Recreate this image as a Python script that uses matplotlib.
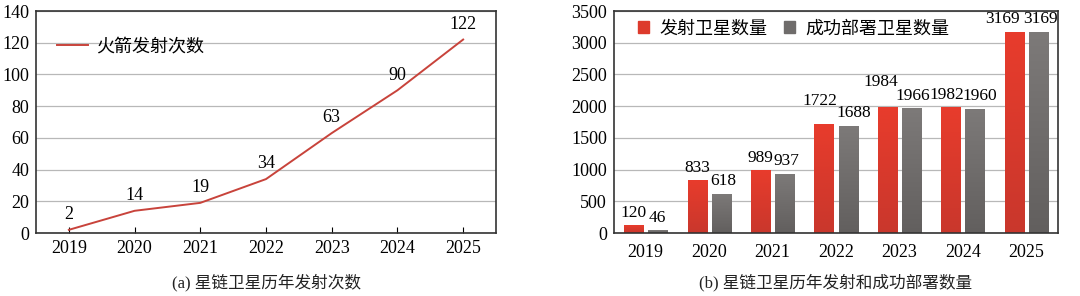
import numpy as np
import matplotlib.pyplot as plt
from matplotlib.patches import Patch
from matplotlib.colors import LinearSegmentedColormap

plt.rcParams['font.family'] = ['Liberation Serif', 'Noto Sans CJK SC']

years = ['2019', '2020', '2021', '2022', '2023', '2024', '2025']
launches = [2, 14, 19, 34, 63, 90, 122]
sat_launched = [120, 833, 989, 1722, 1984, 1982, 3169]
sat_deployed = [46, 618, 937, 1688, 1966, 1960, 3169]

RED = '#c8433b'
BAR_RED = '#dd3a2c'
BAR_GRAY = '#6f6c6b'
GRID = '#b8b8b8'

fig = plt.figure(figsize=(10.8, 2.96), dpi=100)
ax1 = fig.add_axes([36 / 1080, 1 - 233 / 296, 460 / 1080, 222 / 296])
ax2 = fig.add_axes([614 / 1080, 1 - 233 / 296, 444 / 1080, 222 / 296])

fs = 13

# --- (a) 折线图 ---
x = np.arange(len(years))
ax1.plot(x, launches, color=RED, lw=1.4, label='火箭发射次数')
for xi, v in zip(x, launches):
    ax1.annotate(str(v), (xi, v), xytext=(0, 11), textcoords='offset points',
                 ha='center', va='center', fontsize=fs)
ax1.set_xlim(-0.5, 6.5)
ax1.set_ylim(0, 140)
ax1.set_yticks(range(0, 141, 20))
ax1.set_xticks(x)
ax1.set_xticklabels(years)
ax1.grid(axis='y', color=GRID, lw=0.9)
ax1.set_axisbelow(True)
ax1.tick_params(axis='x', direction='in', length=4, labelsize=fs, pad=5)
ax1.tick_params(axis='y', direction='in', length=0, labelsize=fs, pad=5)
ax1.legend(loc='upper left', fontsize=fs, frameon=False, handlelength=1.7,
           handletextpad=0.5, bbox_to_anchor=(0.01, 0.95))
fig.text((36 + 496) / 2 / 1080, 1 - 283 / 296, '(a) 星链卫星历年发射次数',
         ha='center', va='center', fontsize=12, color='#222222')

# --- (b) 柱状图 ---
w = 0.3
off = 0.19


def gradient_bars(ax, xs, vals, top, bottom):
    bars = ax.bar(xs, vals, width=w, color='none', edgecolor='none')
    grad = np.linspace(0, 1, 256).reshape(-1, 1)
    cmap = LinearSegmentedColormap.from_list('g', [bottom, top])
    for b in bars:
        x0, y0 = b.get_x(), b.get_y()
        im = ax.imshow(grad, cmap=cmap, aspect='auto', origin='lower',
                       extent=[x0, x0 + b.get_width(), y0, y0 + b.get_height()],
                       zorder=2)
        im.set_clip_path(b)
    return bars


gradient_bars(ax2, x - off, sat_launched, '#e83c2c', '#c9372c')
gradient_bars(ax2, x + off, sat_deployed, '#7d7a79', '#625f5e')

# 标签微调 (像素): 避免数字重叠
shift_red = [(0, 0), (0, 0), (0, 0), (-4, 10), (-7, 13), (-4, 0), (-12, 0)]
shift_gray = [(0, 0), (2, 0), (2, 0), (6, 0), (1, 0), (5, 0), (2, 0)]
for xi, v, (dx, dy) in zip(x, sat_launched, shift_red):
    ax2.annotate(str(v), (xi - off, v), xytext=(dx * 0.72, 9 + dy * 0.72),
                 textcoords='offset points', ha='center', va='center', fontsize=12.5)
for xi, v, (dx, dy) in zip(x, sat_deployed, shift_gray):
    ax2.annotate(str(v), (xi + off, v), xytext=(dx * 0.72, 9 + dy * 0.72),
                 textcoords='offset points', ha='center', va='center', fontsize=12.5)
ax2.set_xlim(-0.5, 6.5)
ax2.set_ylim(0, 3500)
ax2.set_yticks(range(0, 3501, 500))
ax2.set_xticks(x)
ax2.set_xticklabels(years)
ax2.grid(axis='y', color=GRID, lw=0.9)
ax2.set_axisbelow(True)
ax2.tick_params(axis='x', length=0, labelsize=fs, pad=8)
ax2.tick_params(axis='y', length=0, labelsize=fs, pad=5)
handles = [Patch(color=BAR_RED, label='发射卫星数量'),
           Patch(color=BAR_GRAY, label='成功部署卫星数量')]
ax2.legend(handles=handles, loc='upper left', ncol=2, fontsize=fs, frameon=False,
           handlelength=0.6, handleheight=0.6, columnspacing=0.9, handletextpad=0.6,
           bbox_to_anchor=(0.017, 1.03))
fig.text((614 + 1058) / 2 / 1080, 1 - 283 / 296, '(b) 星链卫星历年发射和成功部署数量',
         ha='center', va='center', fontsize=12, color='#222222')

for ax in (ax1, ax2):
    for s in ax.spines.values():
        s.set_color('#333333')
        s.set_linewidth(1.2)

fig.savefig('out.png', dpi=100, facecolor='white')
